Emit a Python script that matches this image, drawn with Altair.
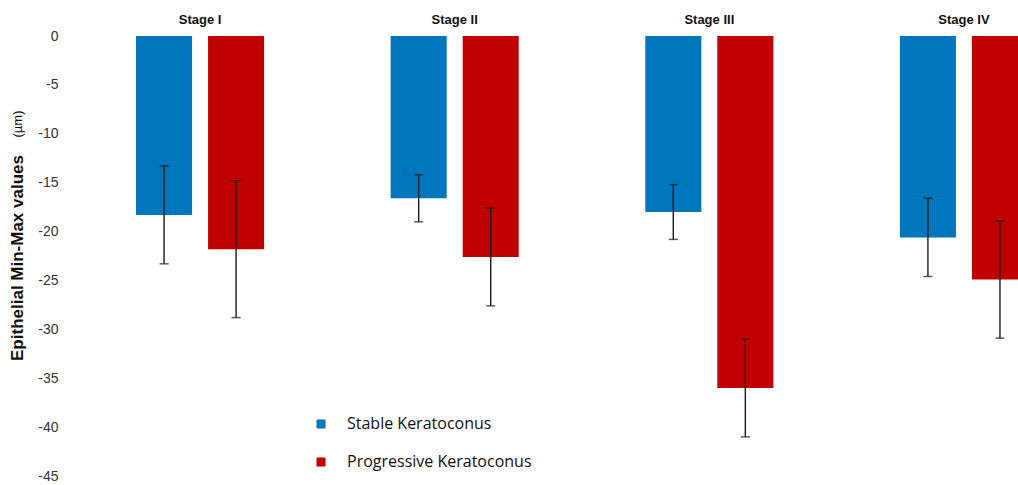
import altair as alt
import pandas as pd

stages = ["Stage I", "Stage II", "Stage III", "Stage IV"]
groups = ["Stable Keratoconus", "Progressive Keratoconus"]
stable_mean = [-18.3, -16.6, -18.0, -20.6]
stable_sd = [5.0, 2.4, 2.8, 4.0]
progressive_mean = [-21.8, -22.6, -36.0, -24.9]
progressive_sd = [7.0, 5.0, 5.0, 6.0]
colors = ["#0077BC", "#C00000"]
y_ticks = [0, -5, -10, -15, -20, -25, -30, -35, -40, -45]

rows = []
for i, stage in enumerate(stages):
    for grp, means, sds in ((groups[0], stable_mean, stable_sd),
                            (groups[1], progressive_mean, progressive_sd)):
        m, s = means[i], sds[i]
        rows.append({"stage": stage, "group": grp, "mean": m,
                     "lo": m - s, "hi": m + s})
df = pd.DataFrame(rows)

x_enc = alt.X(
    "stage:N",
    sort=stages,
    scale=alt.Scale(range=[0, 1018], paddingInner=0.497, paddingOuter=0.2475),
    axis=alt.Axis(orient="top", title=None, domain=False, ticks=False,
                  labelAngle=0, labelFont="Liberation Sans", labelFontSize=13,
                  labelFontWeight="bold", labelColor="#111111",
                  labelPadding=17, labelBaseline="middle"),
)
xoff_enc = alt.XOffset("group:N", sort=groups,
                       scale=alt.Scale(paddingInner=0.222, paddingOuter=0))

base = alt.Chart(df)

bars = base.mark_bar(stroke=None).encode(
    x=x_enc,
    xOffset=xoff_enc,
    y=alt.Y("mean:Q",
            scale=alt.Scale(domain=[-45, 0], nice=False, zero=True),
            axis=alt.Axis(values=y_ticks, title=None, domain=False, ticks=False,
                          grid=False, labelFont="Liberation Sans",
                          labelFontSize=14, labelColor="#333333",
                          labelPadding=15, labelExpr="'' + datum.value")),
    y2=alt.datum(0),
    color=alt.Color("group:N", sort=groups,
                    scale=alt.Scale(domain=groups, range=colors),
                    legend=alt.Legend(title=None, orient="none",
                                      legendX=240, legendY=380,
                                      symbolType="square", symbolSize=81,
                                      symbolStrokeWidth=0,
                                      labelFont="Open Sans", labelFontSize=16,
                                      labelColor="#111111", labelOffset=18,
                                      labelLimit=400,
                                      rowPadding=22, padding=0)),
)

err = base.mark_rule(color="#1a1a1a", strokeWidth=1.4).encode(
    x=alt.X("stage:N", sort=stages),
    xOffset=alt.XOffset("group:N", sort=groups),
    y="lo:Q",
    y2="hi:Q",
)

cap_lo = base.mark_tick(color="#1a1a1a", thickness=1.5, size=9,
                        orient="horizontal").encode(
    x=alt.X("stage:N", sort=stages),
    xOffset=alt.XOffset("group:N", sort=groups),
    y="lo:Q",
)
cap_hi = base.mark_tick(color="#1a1a1a", thickness=1.5, size=9,
                        orient="horizontal").encode(
    x=alt.X("stage:N", sort=stages),
    xOffset=alt.XOffset("group:N", sort=groups),
    y="hi:Q",
)

title_df = pd.DataFrame({"t": ["Epithelial Min-Max values"]})
unit_df = pd.DataFrame({"t": ["(\u00b5m)"]})
y_title = alt.Chart(title_df).mark_text(
    angle=270, align="center", baseline="alphabetic",
    font="Liberation Sans", fontSize=17, fontWeight="bold", color="#111111",
).encode(text="t:N", x=alt.value(-50), y=alt.value(222))
y_unit = alt.Chart(unit_df).mark_text(
    angle=270, align="center", baseline="alphabetic",
    font="Liberation Sans", fontSize=13, color="#111111",
).encode(text="t:N", x=alt.value(-51), y=alt.value(88))

chart = alt.layer(bars, err, cap_lo, cap_hi, y_title, y_unit).properties(
    width=945, height=440,
    autosize=alt.AutoSizeParams(type="none"),
    padding={"left": 73, "top": 36, "right": 0, "bottom": 9},
).configure_view(stroke=None).configure_axis(grid=False)

chart.save("out.html", embed_options={"renderer": "svg", "actions": False})
